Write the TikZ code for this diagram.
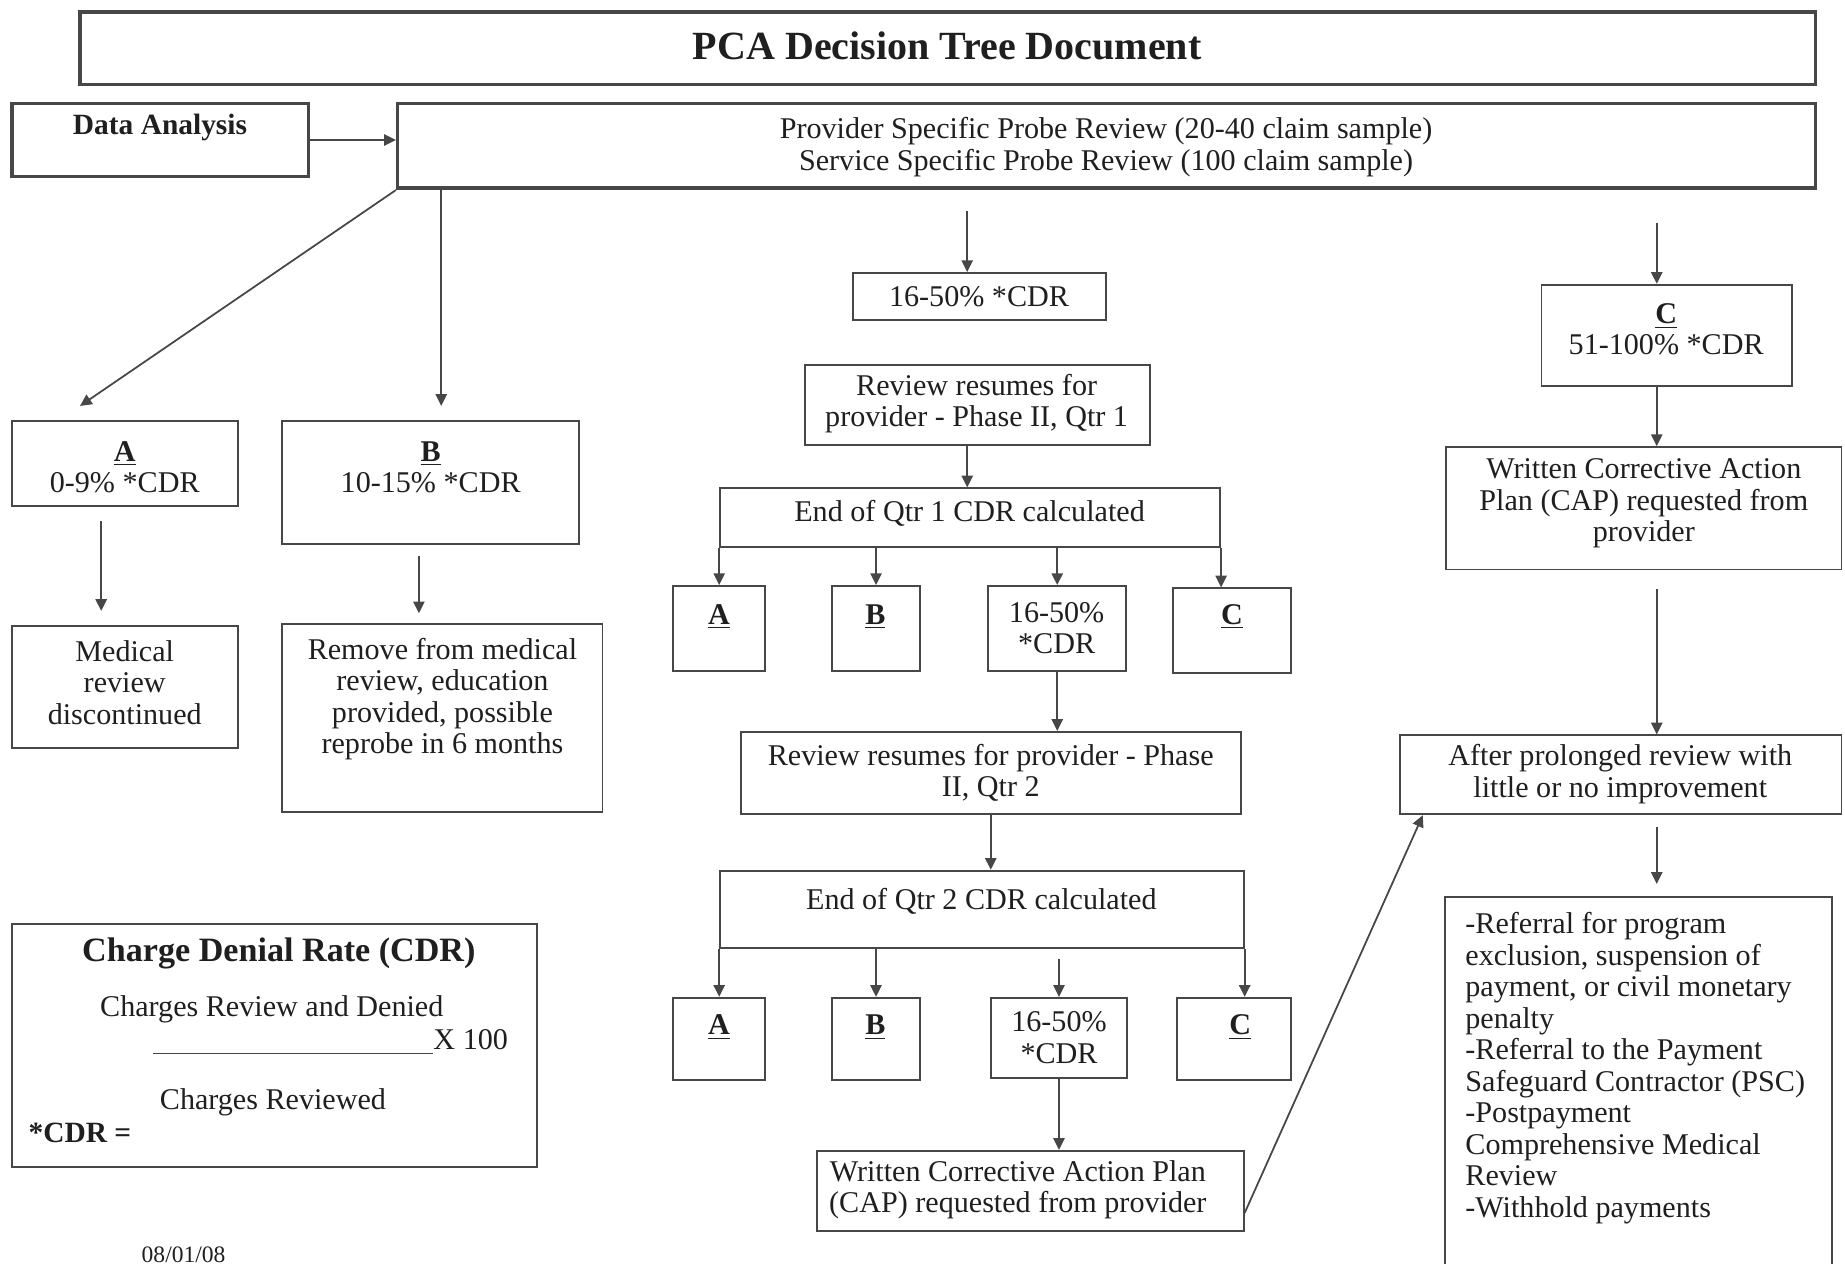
\documentclass[tikz,border=0pt]{standalone}
\usepackage{fontspec}
\setmainfont{Liberation Serif}
\usetikzlibrary{arrows.meta,fit,calc}
\definecolor{ln}{gray}{0.28}
\definecolor{tx}{gray}{0.12}
\newcommand{\mybox}[6][bx]{%
  \coordinate (#2-p1) at (#3,#4);
  \coordinate (#2-p2) at (#5,#6);
  \node[#1, fit=(#2-p1)(#2-p2)] (#2) {};}
\begin{document}
\begin{tikzpicture}[x=0.5pt,y=-0.5pt,
  bx/.style={draw=ln, line width=0.8pt, inner sep=0pt},
  bxb/.style={draw=ln, line width=1.5pt, inner sep=0pt},
  txt/.style={font=\fontsize{12.8}{13.4}\selectfont, align=center, inner sep=0pt, text=tx},
  arr/.style={draw=ln, line width=0.75pt, -{Triangle[length=5pt,width=4.8pt]}},
]
\useasboundingbox (0,0) rectangle (1568,1074);

% ---------- boxes ----------
\mybox[bxb]{title}{68}{10}{1543}{72}
\mybox[bxb]{da}{10}{88}{262}{150}
\mybox[bxb]{probe}{338}{88}{1543}{160}
\mybox{boxA}{10}{358}{202}{430}
\mybox{boxB}{240}{358}{492}{462}
\mybox{med}{10}{532}{202}{636}
\mybox{rem}{240}{530}{512}{690}
\mybox{mone}{725}{232}{940}{272}
\mybox{rrone}{684}{310}{977}{378}
\mybox{eqone}{612}{415}{1037}{465}
\mybox{aone}{572}{498}{650}{570}
\mybox{bone}{707}{498}{782}{570}
\mybox{mtwo}{840}{498}{957}{570}
\mybox{cone}{997}{500}{1097}{572}
\mybox{rrtwo}{630}{622}{1055}{692}
\mybox{eqtwo}{612}{740}{1057}{806}
\mybox{atwo}{572}{848}{650}{918}
\mybox{btwo}{707}{848}{782}{918}
\mybox{mthree}{842}{848}{958}{916}
\mybox{ctwo}{1000}{848}{1097}{918}
\mybox{captwo}{694}{978}{1057}{1046}
\mybox{boxC}{1310}{242}{1523}{328}
\mybox{capone}{1229}{380}{1565}{484}
\mybox{after}{1190}{625}{1565}{692}
\mybox{refr}{1228}{762}{1557}{1090}
\mybox{cdr}{10}{785}{456}{992}

% ---------- texts ----------
\node[txt, font=\bfseries\fontsize{17}{20}\selectfont] (t-title) at (805,39) {PCA Decision Tree Document};
\node[txt, font=\bfseries\fontsize{12.5}{14}\selectfont] (t-da) at (136,108) {Data Analysis};
\node[txt] (t-probe) at (940,125) {Provider Specific Probe Review (20-40 claim sample)\\Service Specific Probe Review (100 claim sample)};
\node[txt] (t-A) at (106,397) {\underline{\textbf{A}}\\0-9\% *CDR};
\node[txt] (t-B) at (366,397) {\underline{\textbf{B}}\\10-15\% *CDR};
\node[txt] (t-med) at (106,580) {Medical\\review\\discontinued};
\node[txt] (t-rem) at (376,594) {Remove from medical\\review, education\\provided, possible\\reprobe in 6 months};
\node[txt] (t-mone) at (832,252) {16-50\% *CDR};
\node[txt] (t-rrone) at (830,343) {Review resumes for\\provider - Phase II, Qtr 1};
\node[txt] (t-eqone) at (824,436) {End of Qtr 1 CDR calculated};
\node[txt] (t-aone) at (611,524) {\underline{\textbf{A}}};
\node[txt] (t-bone) at (744,524) {\underline{\textbf{B}}};
\node[txt] (t-mtwo) at (898,534) {16-50\%\\*CDR};
\node[txt] (t-cone) at (1047,524) {\underline{\textbf{C}}};
\node[txt] (t-rrtwo) at (842,657) {Review resumes for provider - Phase\\II, Qtr 2};
\node[txt] (t-eqtwo) at (834,766) {End of Qtr 2 CDR calculated};
\node[txt] (t-atwo) at (611,873) {\underline{\textbf{A}}};
\node[txt] (t-btwo) at (744,873) {\underline{\textbf{B}}};
\node[txt] (t-mthree) at (900,882) {16-50\%\\*CDR};
\node[txt] (t-ctwo) at (1054,873) {\underline{\textbf{C}}};
\node[txt] (t-captwo) at (865,1011) {Written Corrective Action Plan\\(CAP) requested from provider};
\node[txt] (t-C) at (1416,280) {\underline{\textbf{C}}\\51-100\% *CDR};
\node[txt] (t-capone) at (1397,428) {Written Corrective Action\\Plan (CAP) requested from\\provider};
\node[txt] (t-after) at (1377,658) {After prolonged review with\\little or no improvement};
\node[txt, align=left, anchor=north west] (t-refr) at (1245,775) {-Referral for program\\exclusion, suspension of\\payment, or civil monetary\\penalty\\-Referral to the Payment\\Safeguard Contractor (PSC)\\-Postpayment\\Comprehensive Medical\\Review\\-Withhold payments};
\node[txt, font=\bfseries\fontsize{14.5}{16}\selectfont] (t-cdrh) at (237,810) {Charge Denial Rate (CDR)};
\node[txt] (t-num) at (231,858) {Charges Review and Denied};
\node[txt, anchor=base west] (t-x) at (130,892) {\color{ln}\rule[-2pt]{119pt}{0.6pt}\color{tx}X 100};
\node[txt] (t-den) at (232,937) {Charges Reviewed};
\node[txt, anchor=west, font=\bfseries\fontsize{12.5}{14}\selectfont] (t-eq) at (24,963) {*CDR =};
\node[txt, font=\fontsize{10}{12}\selectfont] (t-date) at (156,1066) {08/01/08};

% ---------- connectors ----------
\coordinate (diagEnd) at (68,345);
\coordinate (bEnd) at (375,345);
\coordinate (colM) at (822,0);
\coordinate (colQ) at (842,0);
\coordinate (colR) at (1408,0);

\draw[arr] (da.east) -- (da.east -| probe.west);
\draw[arr] (probe.south west) -- (diagEnd);
\draw[arr] (probe.south -| bEnd) -- (bEnd);
\draw[arr] ($(boxA.south)+(-20,12)$) -- ($(med.north)+(-20,-12)$);
\draw[arr] ($(boxB.south)+(-10,10)$) -- ($(rem.north)+(-20,-8)$);

\draw[arr] ($(probe.south -| colM)+(0,18)$) -- (mone.north -| colM);
\draw[arr] (rrone.south -| colM) -- (eqone.north -| colM);
\draw[arr] (eqone.south west) -- (eqone.south west |- aone.north);
\draw[arr] (bone.north |- eqone.south) -- (bone.north);
\draw[arr] (mtwo.north |- eqone.south) -- (mtwo.north);
\draw[arr] (eqone.south east) -- (eqone.south east |- cone.north);
\draw[arr] (mtwo.south) -- (mtwo.south |- rrtwo.north);
\draw[arr] (rrtwo.south -| colQ) -- (eqtwo.north -| colQ);
\draw[arr] (eqtwo.south west) -- (eqtwo.south west |- atwo.north);
\draw[arr] (btwo.north |- eqtwo.south) -- (btwo.north);
\draw[arr] ($(mthree.north |- eqtwo.south)+(0,8)$) -- (mthree.north);
\draw[arr] (eqtwo.south east) -- (eqtwo.south east |- ctwo.north);
\draw[arr] (mthree.south) -- (mthree.south |- captwo.north);
\draw[arr] ($(captwo.south east)+(0,-16)$) -- ($(after.south west)+(20,0)$);

\draw[arr] ($(probe.south -| colR)+(0,28)$) -- (boxC.north -| colR);
\draw[arr] (boxC.south -| colR) -- (capone.north -| colR);
\draw[arr] ($(capone.south -| colR)+(0,16)$) -- (after.north -| colR);
\draw[arr] ($(after.south -| colR)+(0,10)$) -- ($(refr.north -| colR)+(0,-10)$);
\end{tikzpicture}
\end{document}
